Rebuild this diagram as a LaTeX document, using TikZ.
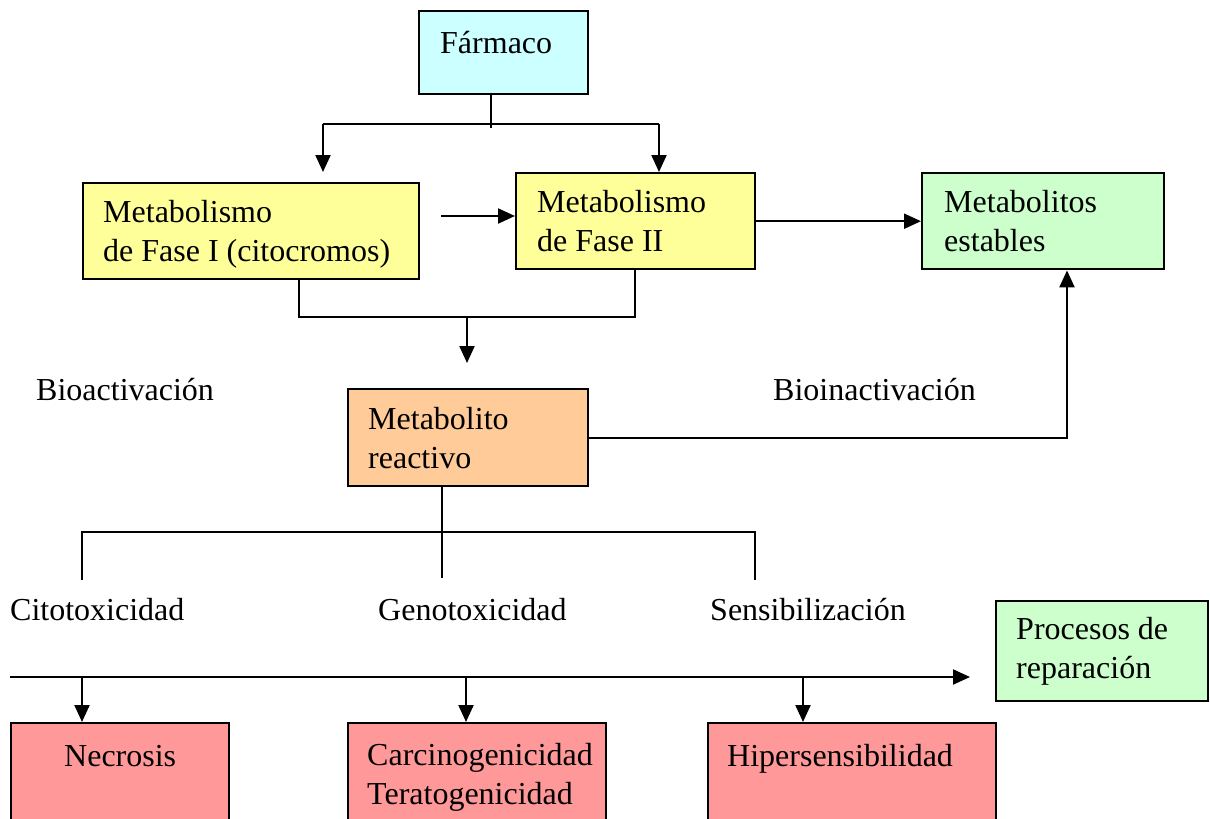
\documentclass[tikz,border=0pt]{standalone}
\usepackage{fontspec}
\setmainfont{Liberation Serif}
\usetikzlibrary{arrows.meta}
\definecolor{cfarm}{HTML}{CCFFFF}
\definecolor{cyel}{HTML}{FFFF99}
\definecolor{cgrn}{HTML}{CCFFCC}
\definecolor{corg}{HTML}{FFCC99}
\definecolor{cred}{HTML}{FF9999}
\begin{document}
\begin{tikzpicture}[x=1pt,y=-1pt,
  boxnode/.style={draw,line width=2.4pt,inner sep=0pt,anchor=north west},
  txt/.style={inner sep=0pt,anchor=base west,align=left,font=\fontsize{32}{39}\selectfont},
  conn/.style={line width=2.2pt},
  arr/.style={line width=2.2pt,-{Triangle[width=15pt,length=17pt]}}]
\useasboundingbox (0,0) rectangle (1210,819);
% boxes
\node[boxnode,fill=cfarm,minimum width=169pt,minimum height=83pt] (farm) at (418,10) {};
\node[boxnode,fill=cyel,minimum width=336pt,minimum height=96pt] (m1) at (82,182) {};
\node[boxnode,fill=cyel,minimum width=239pt,minimum height=96pt] (m2) at (515,172) {};
\node[boxnode,fill=cgrn,minimum width=242pt,minimum height=96pt] (est) at (921,172) {};
\node[boxnode,fill=corg,minimum width=240pt,minimum height=97pt] (reac) at (347,388) {};
\node[boxnode,fill=cgrn,minimum width=212pt,minimum height=100pt] (rep) at (995,600) {};
\node[boxnode,fill=cred,minimum width=218pt,minimum height=120pt] (nec) at (10,722) {};
\node[boxnode,fill=cred,minimum width=258pt,minimum height=120pt] (car) at (347,722) {};
\node[boxnode,fill=cred,minimum width=288pt,minimum height=120pt] (hip) at (707,722) {};
% texts (base anchor = baseline of the last line)
\node[txt] (tfarm) at (440,53) {Fármaco};
\node[txt] (tm1) at (103,261) {Metabolismo\\de Fase I (citocromos)};
\node[txt] (tm2) at (537,251) {Metabolismo\\de Fase II};
\node[txt] (test) at (944,251) {Metabolitos\\estables};
\node[txt] (tbio) at (36,400) {Bioactivación};
\node[txt] (tbin) at (773,400) {Bioinactivación};
\node[txt] (treac) at (368,468) {Metabolito\\reactivo};
\node[txt] (tcit) at (10,620) {Citotoxicidad};
\node[txt] (tgen) at (378,620) {Genotoxicidad};
\node[txt] (tsen) at (710,620) {Sensibilización};
\node[txt] (trep) at (1016,678) {Procesos de\\reparación};
\node[txt] (tnec) at (64,766) {Necrosis};
\node[txt] (tcar) at (367,804) {Carcinogenicidad\\Teratogenicidad};
\node[txt] (thip) at (727,766) {Hipersensibilidad};
% coordinates
\coordinate (fa) at (491,128);
\coordinate (fl) at (323,124);
\coordinate (fr) at (659,124);
\coordinate (p1) at (299,317);
\coordinate (p2) at (635,317);
\coordinate (p3) at (467,317);
\coordinate (p4) at (467,363);
\coordinate (q1) at (441,216);
\coordinate (q2) at (1067,436);
\coordinate (r0) at (442,578);
\coordinate (rl) at (82,532);
\coordinate (rr) at (755,532);
\coordinate (rl2) at (82,580);
\coordinate (rr2) at (755,580);
\coordinate (s0) at (10,677);
\coordinate (s1) at (970,677);
\coordinate (sa) at (82,677);
\coordinate (sb) at (466,677);
\coordinate (sc) at (803,677);
% connectors
\draw[conn] (farm.south -| fa) -- (fa);
\draw[conn] (fl) -- (fr);
\draw[arr] (fl) -- (323,172);
\draw[arr] (fr) -- (m2.north -| fr);
\draw[arr] (q1) -- (m2.west |- q1);
\draw[arr] (m2.east) -- (est.west);
\draw[conn] (m1.south -| p1) -- (p1) -- (p2) -- (m2.south -| p2);
\draw[arr] (p3) -- (p4);
\draw[arr] (reac.east) -| (est.south -| q2);
\draw[conn] (reac.south -| r0) -- (r0);
\draw[conn] (rl2) -- (rl) -- (rr) -- (rr2);
\draw[arr] (s0) -- (s1);
\draw[arr] (sa) -- (nec.north -| sa);
\draw[arr] (sb) -- (car.north -| sb);
\draw[arr] (sc) -- (hip.north -| sc);
\end{tikzpicture}
\end{document}
